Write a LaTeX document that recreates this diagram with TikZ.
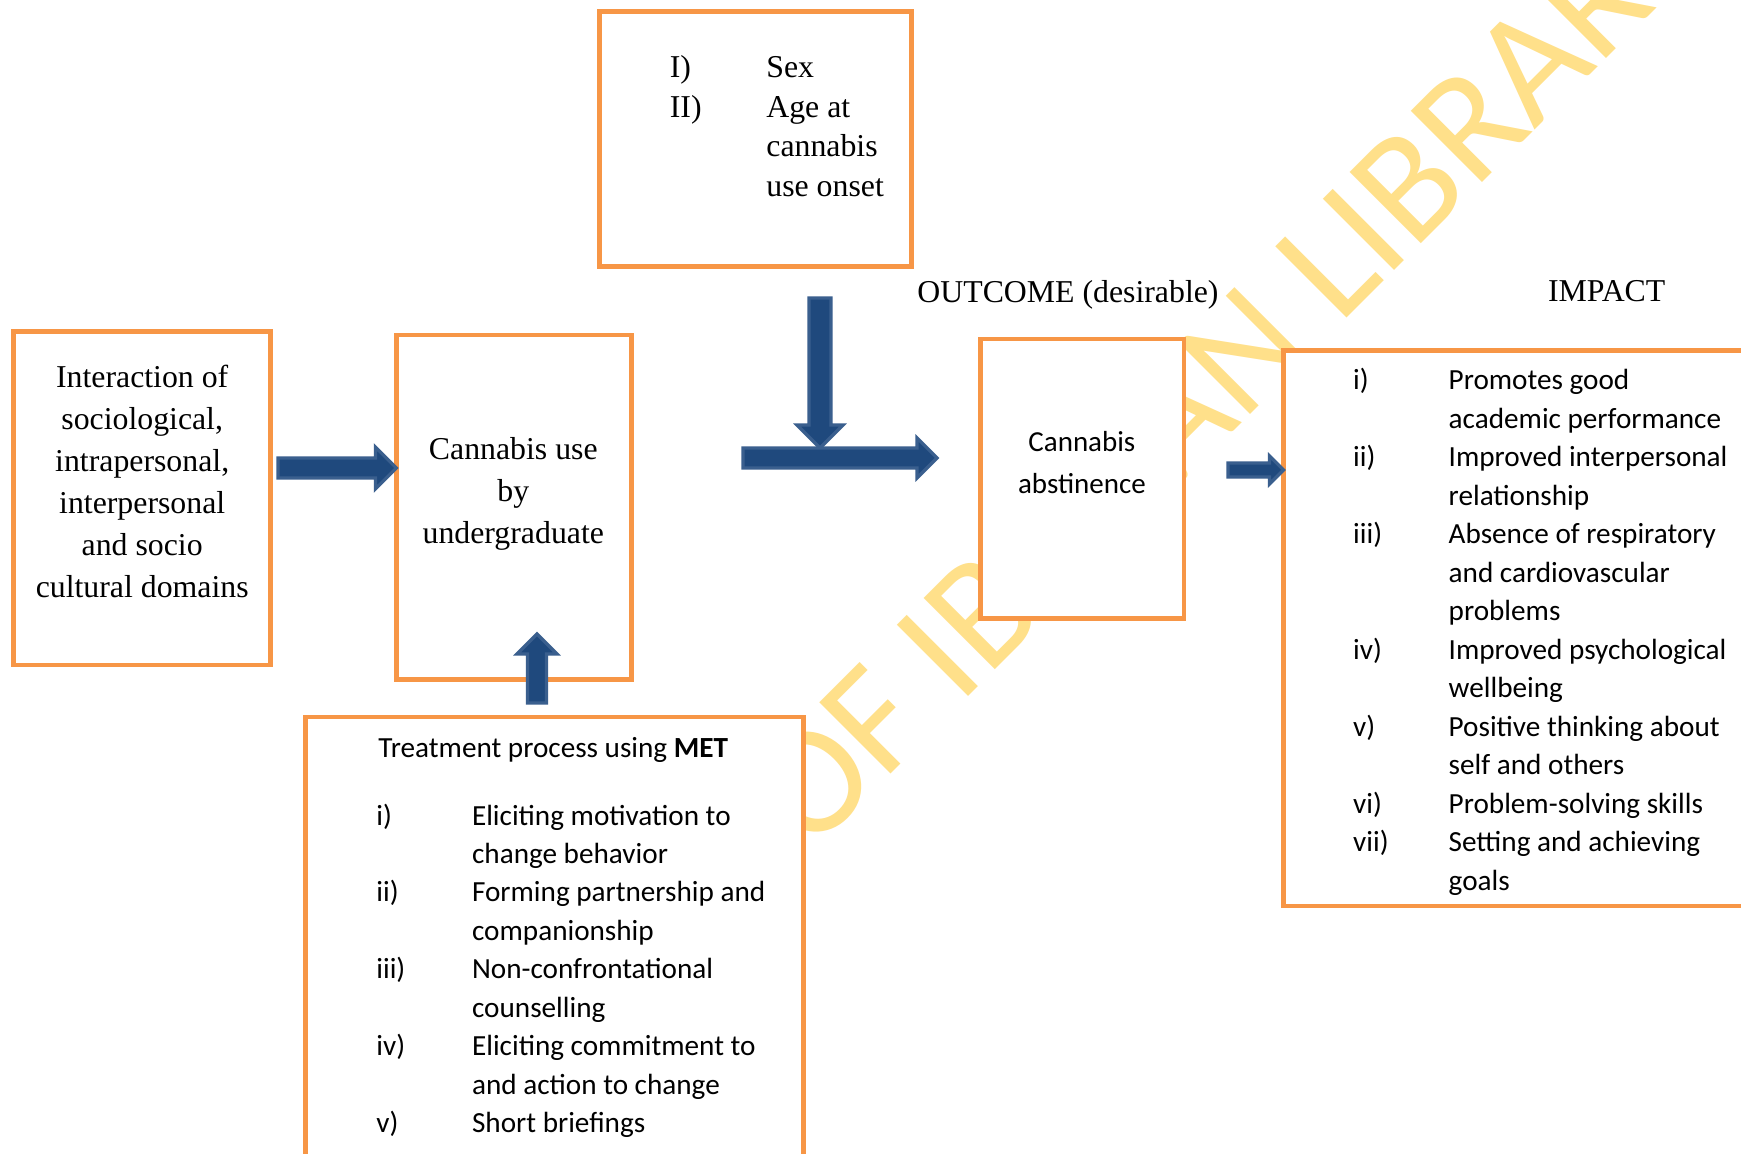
\documentclass[tikz,border=0pt]{standalone}
\usepackage{fontspec}
\setmainfont{Liberation Serif}
\newfontfamily\calibrifont{Carlito}
\usetikzlibrary{calc}

\definecolor{boxorange}{HTML}{F79646}
\definecolor{arrowfill}{HTML}{1F497D}
\definecolor{arrowline}{HTML}{3A5F8E}
\definecolor{wmyellow}{HTML}{FFE08A}

\tikzset{
  box/.style={draw=boxorange, line width=2.25pt, fill=white, inner sep=0pt, outer sep=0pt, anchor=north west},
  blockarrow/.style={fill=arrowfill, draw=arrowline, line width=1.6pt, line join=miter},
  serifbody/.style={font=\fontsize{15.9}{21}\selectfont, inner sep=0pt},
  seriflist/.style={font=\fontsize{15.9}{19.85}\selectfont, inner sep=0pt},
  sansbody/.style={font=\calibrifont\fontsize{14.5}{21}\selectfont, inner sep=0pt},
  sanslist/.style={font=\calibrifont\fontsize{14.6}{19.25}\selectfont, inner sep=0pt},
  watermark/.style={font=\calibrifont\fontsize{78.5}{78.5}\selectfont, text=wmyellow, rotate=45, inner sep=0pt}
}

% block arrows: #1 start, #2 tip, #3 half shaft width, #4 half head width, #5 head length
\newcommand{\blkright}[5]{%
  \draw[blockarrow] let \p1=(#1), \p2=(#2) in
    (\x1,\y1+#3) -- (\x2-#5,\y1+#3) -- (\x2-#5,\y1+#4) -- (\x2,\y1)
    -- (\x2-#5,\y1-#4) -- (\x2-#5,\y1-#3) -- (\x1,\y1-#3) -- cycle;}
\newcommand{\blkdown}[5]{%
  \draw[blockarrow] let \p1=(#1), \p2=(#2) in
    (\x1-#3,\y1) -- (\x1-#3,\y2+#5) -- (\x1-#4,\y2+#5) -- (\x1,\y2)
    -- (\x1+#4,\y2+#5) -- (\x1+#3,\y2+#5) -- (\x1+#3,\y1) -- cycle;}
\newcommand{\blkup}[5]{%
  \draw[blockarrow] let \p1=(#1), \p2=(#2) in
    (\x1-#3,\y1) -- (\x1-#3,\y2-#5) -- (\x1-#4,\y2-#5) -- (\x1,\y2)
    -- (\x1+#4,\y2-#5) -- (\x1+#3,\y2-#5) -- (\x1+#3,\y1) -- cycle;}

\begin{document}
\begin{tikzpicture}[x=0.5pt, y=-0.5pt]
\path[use as bounding box, fill=white] (0,0) rectangle (1741,1154);
\clip (0,0) rectangle (1741,1154);

% library watermark behind everything
\node[watermark, anchor=base west] (wm) at (251,1414) {UNIVERSITY OF IBADAN LIBRARY};

% boxes
\node[box, minimum width=128.55pt, minimum height=166.85pt] (b1) at (13.4,331.3) {};
\node[box, minimum width=117.65pt, minimum height=172.15pt] (b2) at (396.4,335) {};
\node[box, minimum width=156.05pt, minimum height=127.7pt] (b3) at (599.6,11.3) {};
\node[box, minimum width=101.65pt, minimum height=139.65pt] (b4) at (980.6,339) {};
\node[box, minimum width=245pt, minimum height=277.75pt] (b5) at (1283.5,350.5) {};
\node[box, minimum width=249pt, minimum height=240pt] (b6) at (305.5,717) {};

% box texts
\node[serifbody, anchor=base] (t1) at (142.2,387.5) {\begin{tabular}[t]{@{}c@{}}
Interaction of\\ sociological,\\ intrapersonal,\\ interpersonal\\ and socio\\ cultural domains\end{tabular}};

\node[serifbody, anchor=base] (t2) at (513.3,460) {\begin{tabular}[t]{@{}c@{}}
Cannabis use\\ by\\ undergraduate\end{tabular}};

\node[seriflist, anchor=base west] (t3) at (669.5,77.5) {\begin{tabular}[t]{@{}p{48.25pt}@{}l@{}}
I) & Sex\\
II) & Age at\\
 & cannabis\\
 & use onset\end{tabular}};

\node[sansbody, anchor=base] (t4) at (1081.9,451.7) {\begin{tabular}[t]{@{}c@{}}
Cannabis\\ abstinence\end{tabular}};

\node[sanslist, anchor=base west] (t5) at (1352.8,390) {\begin{tabular}[t]{@{}p{47.75pt}@{}l@{}}
i) & Promotes good\\
 & academic performance\\
ii) & Improved interpersonal\\
 & relationship\\
iii) & Absence of respiratory\\
 & and cardiovascular\\
 & problems\\
iv) & Improved psychological\\
 & wellbeing\\
v) & Positive thinking about\\
 & self and others\\
vi) & Problem-solving skills\\
vii) & Setting and achieving\\
 & goals\end{tabular}};

\node[sanslist, anchor=base west] (t6h) at (378,757) {Treatment process using \textbf{MET}};
\node[sanslist, anchor=base west] (t6) at (376,825) {\begin{tabular}[t]{@{}p{47.85pt}@{}l@{}}
i) & Eliciting motivation to\\
 & change behavior\\
ii) & Forming partnership and\\
 & companionship\\
iii) & Non-confrontational\\
 & counselling\\
iv) & Eliciting commitment to\\
 & and action to change\\
v) & Short briefings\end{tabular}};

% column headings
\node[serifbody, anchor=base west] (hout) at (917,302.5) {OUTCOME (desirable)};
\node[serifbody, anchor=base west] (himp) at (1547.7,302) {IMPACT};

% arrow end points
\coordinate (a1s) at (278,468);
\coordinate (a1e) at (b2.west |- a1s);
\coordinate (dns) at (820,298);
\coordinate (dne) at (820,448);
\coordinate (hzs) at (743,458);
\coordinate (hze) at (937,458);
\coordinate (ups) at (537,703);
\coordinate (upe) at (537,634);
\coordinate (sms) at (1228,470);
\coordinate (sme) at (b5.west |- sms);

% arrows
\blkright{a1s}{a1e}{5pt}{10.5pt}{10.5pt}
\blkdown{dns}{dne}{5.5pt}{11.5pt}{11.5pt}
\blkright{hzs}{hze}{5pt}{10pt}{10pt}
\blkup{ups}{upe}{4.75pt}{10pt}{10pt}
\blkright{sms}{sme}{3.5pt}{7pt}{7pt}
\end{tikzpicture}
\end{document}
